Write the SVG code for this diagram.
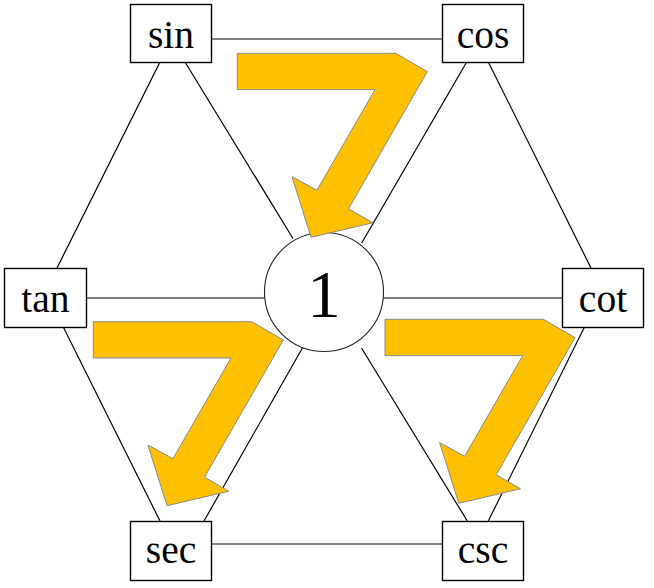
<svg xmlns="http://www.w3.org/2000/svg" xmlns:xlink="http://www.w3.org/1999/xlink" width="654" height="588" viewBox="0 0 654 588">
<style>
.box{fill:#fff;stroke:#000;stroke-width:1.4}
.lbl{font-family:"Liberation Serif","DejaVu Serif",serif;font-size:39.5px;fill:#000;text-anchor:middle}
.num{font-family:"Liberation Serif","DejaVu Serif",serif;font-size:67px;fill:#000;text-anchor:middle}
.edge{stroke:#000;stroke-width:1.2;fill:none}
.arrow{fill:#FFC000;stroke:#8a8a8a;stroke-width:1}
</style>
<defs>
<polygon id="zarrow" class="arrow" points="0,0 158.4,0 190,18.3 111.2,155.5 135.5,169.5 73.8,184 54.6,123.3 79.6,137 137.7,36.3 0,36.3"/>
</defs>
<rect width="654" height="588" fill="#fff"/>
<g id="connectors">
<line class="edge" x1="211" y1="39" x2="442" y2="39"/>
<line class="edge" x1="86" y1="298" x2="265" y2="298"/>
<line class="edge" x1="383" y1="298" x2="562" y2="298"/>
<line class="edge" x1="211" y1="544" x2="442" y2="544"/>
<line class="edge" x1="160" y1="62" x2="57" y2="268"/>
<line class="edge" x1="185" y1="62" x2="293" y2="238.5"/>
<line class="edge" x1="466.7" y1="62" x2="361.7" y2="243"/>
<line class="edge" x1="488.3" y1="62" x2="591" y2="268"/>
<line class="edge" x1="63.3" y1="327" x2="160" y2="521"/>
<line class="edge" x1="302.7" y1="347.5" x2="204" y2="521"/>
<line class="edge" x1="361.5" y1="348" x2="467.3" y2="521"/>
<line class="edge" x1="584" y1="328" x2="488.3" y2="521"/>
</g>
<g id="node-sin"><rect class="box" x="130.5" y="4.5" width="81" height="58"/><text class="lbl" x="171" y="48.3">sin</text></g>
<g id="node-cos"><rect class="box" x="442.5" y="4.5" width="81" height="58"/><text class="lbl" x="483" y="48.3">cos</text></g>
<g id="node-tan"><rect class="box" x="4.5" y="268.5" width="82" height="59"/><text class="lbl" x="45.5" y="311.7">tan</text></g>
<g id="node-cot"><rect class="box" x="562.5" y="268.5" width="81" height="59"/><text class="lbl" x="603" y="311.7">cot</text></g>
<g id="node-sec"><rect class="box" x="130.5" y="521.5" width="81" height="59"/><text class="lbl" x="171" y="563.3">sec</text></g>
<g id="node-csc"><rect class="box" x="442.5" y="521.5" width="81" height="59"/><text class="lbl" x="483" y="563.3">csc</text></g>
<g id="node-one"><circle cx="324" cy="292" r="59.5" fill="#fff" stroke="#222" stroke-width="1.1"/><text class="num" x="324" y="317.3">1</text></g>
<g id="arrows">
<use xlink:href="#zarrow" href="#zarrow" transform="translate(237.3,53.3)"/>
<use xlink:href="#zarrow" href="#zarrow" transform="translate(93.3,321.7)"/>
<use xlink:href="#zarrow" href="#zarrow" transform="translate(385,319.3)"/>
</g>
</svg>
